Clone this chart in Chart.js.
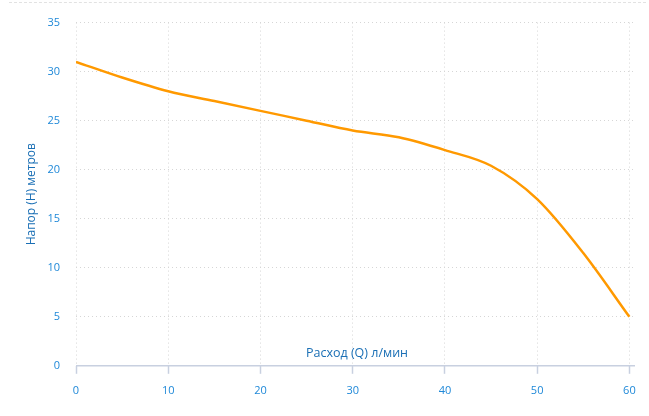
<!DOCTYPE html>
<html>
<head>
<meta charset="utf-8">
<script src="https://cdn.jsdelivr.net/npm/chart.js@4"></script>
<style>
  html, body { margin: 0; padding: 0; background: #fff; }
  #wrap { position: relative; width: 649px; height: 416px; }
  #topline { position: absolute; left: 9px; right: 3px; top: 2px; border-top: 1px dashed #e2e2e2; }
  #chart-pump { position: absolute; left: 0; top: 0; }
</style>
</head>
<body>
<div id="wrap">
  <div id="topline"></div>
  <canvas id="chart-pump" width="649" height="416"></canvas>
</div>
<script>
"use strict";

// расход, л/мин
const flowValues = [0, 5, 10, 15, 20, 25, 30, 35, 40, 45, 50, 55, 60];
// напор, метров
const headValues = [31, 29.4, 28, 27, 26, 25, 24, 23.3, 22, 20.4, 17, 11.5, 5];

const xTitle = 'Расход (Q) л/мин';
const yTitle = 'Напор (Н) метров';

const tickColor = '#1e88d8';
const titleColor = '#1a6fb5';
const gridColor = '#d6d6d6';
const axisColor = '#c8d0e0';

// подпись оси X рисуется внутри области графика, над осью
const innerXTitle = {
  id: 'innerXTitle',
  afterDraw(chart) {
    const ctx = chart.ctx;
    const area = chart.chartArea;
    ctx.save();
    ctx.font = '12.5px "Open Sans"';
    ctx.fillStyle = titleColor;
    ctx.textAlign = 'center';
    ctx.textBaseline = 'middle';
    ctx.fillText(xTitle, (area.left + area.right) / 2 + 2, area.bottom - 12);
    ctx.restore();
  }
};

// сплошная линия оси X поверх пунктирной сетки
const solidXAxis = {
  id: 'solidXAxis',
  afterDraw(chart) {
    const ctx = chart.ctx;
    const area = chart.chartArea;
    ctx.save();
    ctx.strokeStyle = axisColor;
    ctx.lineWidth = 1.5;
    ctx.setLineDash([]);
    ctx.beginPath();
    ctx.moveTo(area.left, area.bottom);
    ctx.lineTo(area.right + 1, area.bottom);
    ctx.stroke();
    ctx.restore();
  }
};

const points = flowValues.map((x, i) => ({ x: x, y: headValues[i] }));

new Chart(document.getElementById('chart-pump').getContext('2d'), {
  type: 'line',
  data: {
    datasets: [{
      data: points,
      borderColor: '#ff9900',
      borderWidth: 2.5,
      pointRadius: 0,
      fill: false,
      cubicInterpolationMode: 'monotone'
    }]
  },
  options: {
    responsive: false,
    animation: false,
    layout: { padding: { top: 17, right: 15, bottom: 9, left: 0 } },
    plugins: { legend: { display: false }, tooltip: { enabled: false } },
    scales: {
      x: {
        type: 'linear',
        min: 0,
        max: 60.5,
        border: { display: false, dash: [1, 3] },
        grid: {
          color: gridColor,
          tickLength: 8,
          tickColor: axisColor,
          tickBorderDash: [],
          tickWidth: 1.5
        },
        ticks: {
          stepSize: 10,
          includeBounds: false,
          padding: 10,
          color: tickColor,
          font: { family: '"Open Sans"', size: 11 },
          maxRotation: 0
        }
      },
      y: {
        min: 0,
        max: 35,
        border: { display: false, dash: [1, 3] },
        grid: { color: gridColor, drawTicks: false },
        ticks: {
          stepSize: 5,
          padding: 16,
          color: tickColor,
          font: { family: '"Open Sans"', size: 11 }
        },
        title: {
          display: true,
          text: yTitle,
          color: titleColor,
          font: { family: '"Open Sans"', size: 12 },
          padding: { top: 24, bottom: 0 }
        },
        afterFit(scale) { scale.width = 76; }
      }
    }
  },
  plugins: [solidXAxis, innerXTitle]
});
</script>
</body>
</html>
